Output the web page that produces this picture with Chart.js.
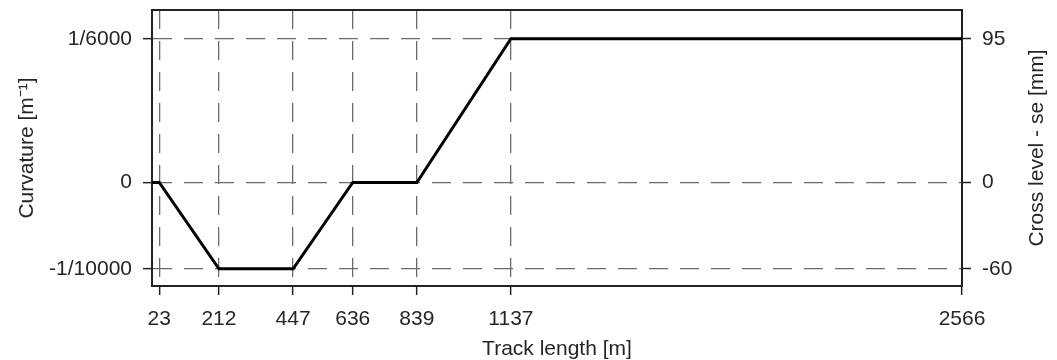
<!DOCTYPE html>
<html>
<head>
<meta charset="utf-8">
<script src="https://cdn.jsdelivr.net/npm/chart.js@4.4.0/dist/chart.umd.min.js"></script>
<style>
  html, body { margin: 0; padding: 0; background: #fff; }
  #wrap { width: 1057px; height: 360px; }
</style>
</head>
<body>
<div id="wrap"><canvas id="chart" width="1057" height="360"></canvas></div>
<script>
// track length breakpoints [m] and curvature [1/m]
var trackLength = [0, 23, 212, 447, 636, 839, 1137, 2566];
var curvature = [0, 0, -1/10000, -1/10000, 0, 0, 1/6000, 1/6000];

// tick values and labels
var xTicks = [23, 212, 447, 636, 839, 1137, 2566];
var curvatureTicks = [-1/10000, 0, 1/6000];
var curvatureLabels = ['-1/10000', '0', '1/6000'];
var crossLevelLabels = ['-60', '0', '95'];
var rightTitle = 'Cross level - se [mm]';

var font = { family: '"Liberation Sans", Arial, sans-serif', size: 21 };
var textColor = '#262626';
var axisColor = '#222';
var gridColor = '#6b6b6b';

function setTicks(values) {
  return function (scale) {
    scale.ticks = values.map(function (v) { return { value: v }; });
  };
}
function labelFor(labels) {
  return function (value) {
    var i = curvatureTicks.indexOf(value);
    return i >= 0 ? labels[i] : '';
  };
}
function fitWidth(w) {
  return function (s) { s.width = w; s.paddingTop = 0; s.paddingBottom = 0; };
}

// right axis title reads bottom-to-top, so draw it ourselves
var rightTitlePlugin = {
  id: 'rightTitle',
  afterDraw: function (chart) {
    var c = chart.ctx, a = chart.chartArea;
    c.save();
    c.translate(chart.scales.y2.right - 20, (a.top + a.bottom) / 2);
    c.rotate(-Math.PI / 2);
    c.font = font.size + 'px ' + font.family;
    c.fillStyle = textColor;
    c.textAlign = 'center';
    c.textBaseline = 'middle';
    c.fillText(rightTitle, 0, 0);
    c.restore();
  }
};

var ctx = document.getElementById('chart');
var chart = new Chart(ctx, {
  type: 'line',
  data: {
    datasets: [{
      data: trackLength.map(function (x, i) { return { x: x, y: curvature[i] }; }),
      borderColor: '#000',
      borderWidth: 3,
      pointRadius: 0,
      tension: 0,
      fill: false
    }]
  },
  plugins: [rightTitlePlugin],
  options: {
    responsive: false,
    animation: false,
    layout: { padding: 0 },
    plugins: { legend: { display: false }, tooltip: { enabled: false } },
    scales: {
      x: {
        type: 'linear',
        position: 'bottom',
        min: 0,
        max: 2566,
        afterBuildTicks: setTicks(xTicks),
        afterFit: function (s) { s.height = 74; },
        ticks: { font: font, color: textColor, padding: 12, maxRotation: 0, autoSkip: false,
          callback: function (v) { return String(v); } },
        grid: { color: gridColor, lineWidth: 1.3, tickColor: axisColor, tickWidth: 1.5, tickLength: 9 },
        border: { color: axisColor, width: 2, dash: [19, 12] },
        title: { display: true, text: 'Track length [m]', color: textColor, padding: 0,
          font: { family: font.family, size: font.size, lineHeight: 1.0 } }
      },
      xTop: {
        type: 'linear',
        position: 'top',
        min: 0,
        max: 2566,
        afterFit: function (s) { s.height = 10; },
        ticks: { display: false },
        grid: { display: false },
        border: { color: axisColor, width: 2 }
      },
      y: {
        type: 'linear',
        position: 'left',
        min: -1.2e-4,
        max: 2e-4,
        afterBuildTicks: setTicks(curvatureTicks),
        afterFit: fitWidth(152),
        ticks: { font: font, color: textColor, padding: 11, callback: labelFor(curvatureLabels) },
        grid: { color: gridColor, lineWidth: 1.3, tickColor: axisColor, tickWidth: 1.5, tickLength: 9 },
        border: { color: axisColor, width: 2, dash: [19, 12] },
        title: { display: true, text: 'Curvature [m\u207B\u00B9]', font: font, color: textColor, padding: 15 }
      },
      y2: {
        type: 'linear',
        position: 'right',
        min: -1.2e-4,
        max: 2e-4,
        afterBuildTicks: setTicks(curvatureTicks),
        afterFit: fitWidth(95),
        ticks: { font: font, color: textColor, padding: 11, callback: labelFor(crossLevelLabels) },
        grid: { drawOnChartArea: false, tickColor: axisColor, tickWidth: 1.5, tickLength: 9 },
        border: { color: axisColor, width: 2 }
      }
    }
  }
});
</script>
</body>
</html>
